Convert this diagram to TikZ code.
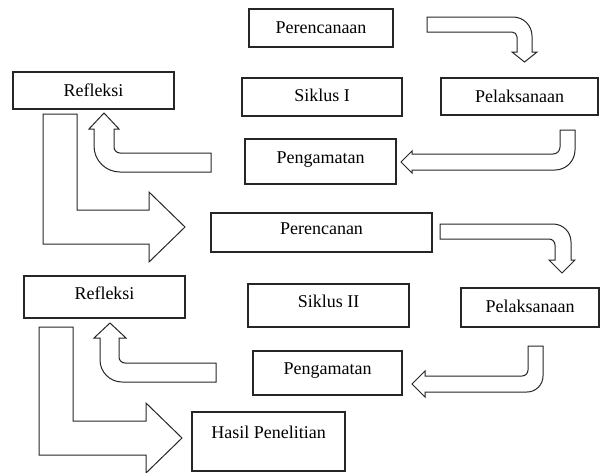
\documentclass[tikz,border=0pt]{standalone}
\usepackage{fontspec}
\setmainfont{Liberation Serif}
\usepackage{tikz}

\begin{document}
\begin{tikzpicture}[x=1pt,y=1pt,yscale=-1,xscale=1,
	box/.style={draw=black!85, line width=1.1pt, inner sep=0pt, font=\fontsize{18}{20}\selectfont, text height=12pt, text depth=0pt},
	blockarrow/.style={draw=black!85, line width=1pt, line join=miter}]
			%set diagram left start at 0, and has height of 472
			\useasboundingbox (0,0) rectangle (601,472);
			
			% Text Node
			\node [box, minimum width=144, minimum height=38, text depth=2pt] (per1) at (321,28) {Perencanaan};
			% Text Node
			\node [box, minimum width=161, minimum height=37] (ref1) at (93.5,90.5) {Refleksi};
			% Text Node
			\node [box, minimum width=160, minimum height=38, text depth=3pt] (sik1) at (322,97) {Siklus I};
			% Text Node
			\node [box, minimum width=157, minimum height=37] (pel1) at (519.5,96.5) {Pelaksanaan};
			% Text Node
			\node [box, minimum width=151, minimum height=45, text depth=8pt] (pen1) at (320.5,161.5) {Pengamatan};
			% Text Node
			\node [box, minimum width=221, minimum height=39, text depth=9pt] (per2) at (321.5,232.5) {Perencanan};
			% Text Node
			\node [box, minimum width=161, minimum height=42, text depth=8pt] (ref2) at (104.5,297) {Refleksi};
			% Text Node
			\node [box, minimum width=161, minimum height=43, text depth=8pt] (sik2) at (328.5,305.5) {Siklus II};
			% Text Node
			\node [box, minimum width=138, minimum height=39, text depth=2pt] (pel2) at (530,307.5) {Pelaksanaan};
			% Text Node
			\node [box, minimum width=149, minimum height=44, text depth=9pt] (pen2) at (327.5,373) {Pengamatan};
			% Text Node
			\node [box, minimum width=153, minimum height=59, text depth=18pt] (has) at (268.5,441.5) {Hasil Penelitian};
			
			%Shape: Bent Arrow (Perencanaan to Pelaksanaan)
			\draw [blockarrow] (427,17) -- (513,17) .. controls (523.5,17) and (532,25.5) .. (532,36) -- (532,52) -- (537,52) -- (524.5,62) -- (512,52) -- (517,52) -- (517,37) .. controls (517,34.2) and (514.8,32) .. (512,32) -- (427,32) -- cycle ;
			%Shape: Bent Arrow (Pelaksanaan to Pengamatan)
			\draw [blockarrow] (560,130) -- (575,130) -- (575,150) .. controls (575,161) and (566,170) .. (555,170) -- (412,170) -- (412,173) -- (401,162) -- (412,151) -- (412,154) -- (553,154) .. controls (556.9,154) and (560,150.9) .. (560,147) -- cycle ;
			%Shape: Bent Arrow (Pengamatan to Refleksi)
			\draw [blockarrow] (211,153) -- (211,172) -- (120,172) .. controls (105.6,172) and (94,160.4) .. (94,146) -- (94,129) -- (89,129) -- (104,113) -- (119,129) -- (114,129) -- (114,147) .. controls (114,150.3) and (116.7,153) .. (120,153) -- cycle ;
			%Shape: Corner Arrow (Refleksi to Perencanan)
			\draw [blockarrow] (43,114) -- (77,114) -- (77,210) -- (149,210) -- (149,192) -- (185,227) -- (149,262) -- (149,244) -- (43,244) -- cycle ;
			
			%Shape: Bent Arrow (Perencanan to Pelaksanaan)
			\draw [blockarrow] (440,224) -- (553,224) .. controls (563,224) and (571,232) .. (571,242) -- (571,260) -- (575,260) -- (562,273) -- (549,260) -- (555,260) -- (555,245) .. controls (555,241.7) and (552.3,239) .. (549,239) -- (440,239) -- cycle ;
			%Shape: Bent Arrow (Pelaksanaan to Pengamatan)
			\draw [blockarrow] (528,346) -- (543,346) -- (543,376) .. controls (543,384.8) and (535.8,392) .. (527,392) -- (425,392) -- (425,397) -- (412,384) -- (425,371) -- (425,376) -- (522,376) .. controls (525.3,376) and (528,373.3) .. (528,370) -- cycle ;
			%Shape: Bent Arrow (Pengamatan to Refleksi)
			\draw [blockarrow] (216,363) -- (216,382) -- (122,382) .. controls (110,382) and (100,372) .. (100,360) -- (100,338) -- (94,338) -- (110,323) -- (126,338) -- (119,338) -- (119,357) .. controls (119,360.3) and (121.7,363) .. (125,363) -- cycle ;
			%Shape: Corner Arrow (Refleksi to Hasil Penelitian)
			\draw [blockarrow] (39,327) -- (73,327) -- (73,421) -- (146,421) -- (146,403) -- (182,438) -- (146,473) -- (146,455) -- (39,455) -- cycle ;
			
\end{tikzpicture}
\end{document}
